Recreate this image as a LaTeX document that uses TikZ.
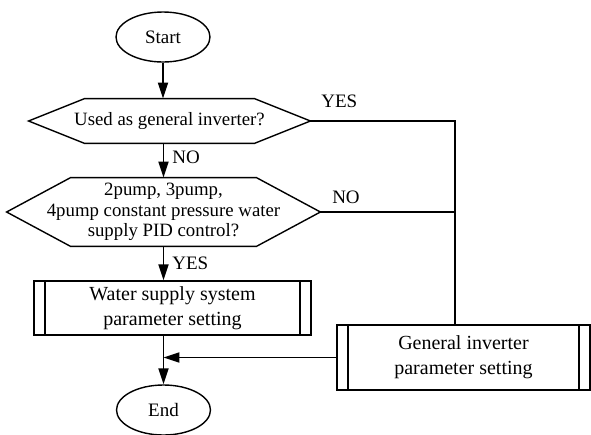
\documentclass[tikz,border=0pt]{standalone}
\usepackage{fontspec}
\setmainfont{Liberation Serif}
\usepackage{tikz}
\usetikzlibrary{shapes.geometric, arrows.meta, positioning, calc}
\tikzset{
  terminal/.style={ellipse, draw, minimum width=47pt, minimum height=25pt,
    inner sep=0pt, font=\fontsize{9.5}{11}\selectfont, line width=0.7pt},
  decision/.style={rectangle, inner sep=0pt, align=center,
    font=\fontsize{9.4}{10.2}\selectfont},
  hexline/.style={line width=0.7pt, line join=miter},
  subproc/.style={rectangle, draw, inner sep=0pt, align=center,
    font=\fontsize{10}{12.3}\selectfont, line width=0.7pt,
    path picture={
      \draw[line width=0.7pt] ([xshift=5.5pt]path picture bounding box.north west) -- ([xshift=5.5pt]path picture bounding box.south west);
      \draw[line width=0.7pt] ([xshift=-5.5pt]path picture bounding box.north east) -- ([xshift=-5.5pt]path picture bounding box.south east);}},
  arrow/.style={-{Triangle[length=8pt, width=5pt]}, line width=0.9pt},
  line/.style={line width=0.9pt},
  lbl/.style={font=\fontsize{9.5}{11}\selectfont, inner sep=1pt}
}

\begin{document}
\begin{tikzpicture}[x=0.5pt, y=-0.5pt]
  \useasboundingbox (0,0) rectangle (591,435);

  % Start / End
  \node[terminal] (start) at (163,37) {Start};
  \node[terminal] (end) at (163.5,410) {End};

  % First decision
  \node[decision, minimum width=140.5pt, minimum height=22pt] (d1) at (169.5,121) {Used as general inverter?};
  \draw[hexline] (d1.west) -- ([xshift=28pt]d1.north west) -- ([xshift=-28pt]d1.north east)
    -- (d1.east) -- ([xshift=-28pt]d1.south east) -- ([xshift=28pt]d1.south west) -- cycle;

  % Second decision
  \node[decision, minimum width=156.5pt, minimum height=34pt] (d2) at (163.5,212)
    {2pump, 3pump,\\4pump constant pressure water\\supply PID control?};
  \draw[hexline] (d2.west) -- ([xshift=32pt]d2.north west) -- ([xshift=-32pt]d2.north east)
    -- (d2.east) -- ([xshift=-32pt]d2.south east) -- ([xshift=32pt]d2.south west) -- cycle;

  % Parameter setting boxes
  \node[subproc, minimum width=138.5pt, minimum height=27pt] (p1) at (172.5,308)
    {Water supply system\\parameter setting};
  \node[subproc, minimum width=126.5pt, minimum height=32.5pt] (p2) at (463.5,357.5)
    {General inverter\\parameter setting};

  % Main flow
  \draw[arrow] (start.south) -- (start.south |- d1.north);
  \draw[arrow] (d2.north |- d1.south) -- node[lbl, right=3pt, yshift=1.5pt] {NO} (d2.north);
  \draw[arrow] (d2.south) -- node[lbl, right=3pt] {YES} (d2.south |- p1.north);
  \draw[arrow] (end.north |- p1.south) -- (end.north);

  % Branch to general inverter setting
  \coordinate (yesbend) at (455,121);
  \draw[line] (d1.east) -- node[lbl, pos=0.2, above=5pt] {YES} (yesbend) -- (yesbend |- p2.north);
  \draw[line] (d2.east) -- node[lbl, pos=0.19, above=2.5pt] {NO} (d2.east -| yesbend);
  \draw[arrow] (p2.west) -- (p2.west -| end.north);
\end{tikzpicture}
\end{document}
